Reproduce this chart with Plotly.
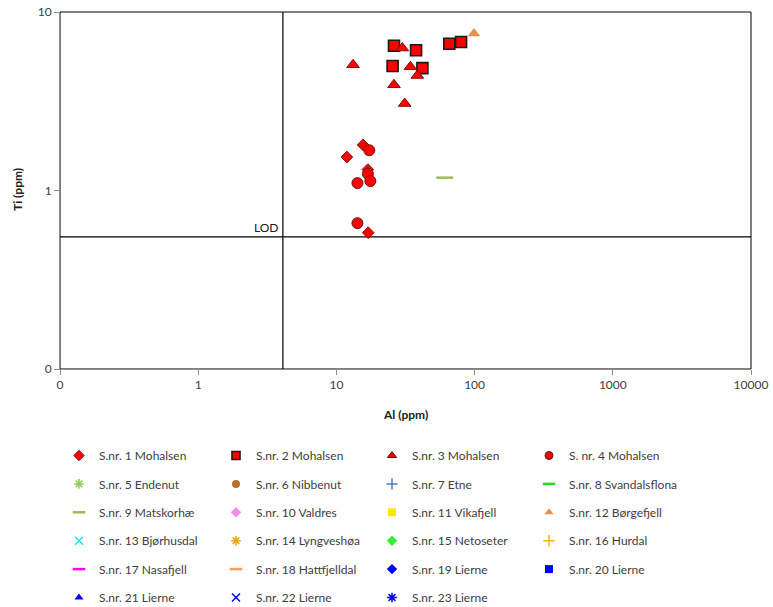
import plotly.graph_objects as go
import math

# ---------------- data ----------------
s1_al = [15.6, 11.9, 16.9, 17.0]
s1_ti = [1.80, 1.54, 1.31, 0.58]
s2_al = [26.1, 37.7, 25.5, 41.9, 65.6, 79.8]
s2_ti = [6.47, 6.10, 4.98, 4.85, 6.64, 6.79]
s3_al = [30.0, 13.2, 34.3, 38.5, 26.1, 31.2]
s3_ti = [6.28, 5.06, 4.93, 4.41, 3.91, 3.07]
s4_al = [17.3, 16.9, 14.2, 17.6, 14.2]
s4_ti = [1.68, 1.24, 1.10, 1.13, 0.656]
s9_al = [60.8]
s9_ti = [1.18]
s12_al = [99.0]
s12_ti = [7.59]

lod_al = 4.1
lod_ti = 0.55

x_tickvals = [0.1, 1, 10, 100, 1000, 10000]
x_ticktext = ["0", "1", "10", "100", "1000", "10000"]
y_tickvals = [0.1, 1, 10]
y_ticktext = ["0", "1", "10"]

series_names = [
    "S.nr. 1 Mohalsen", "S.nr. 2 Mohalsen", "S.nr. 3 Mohalsen", "S. nr. 4 Mohalsen",
    "S.nr. 5 Endenut", "S.nr. 6 Nibbenut", "S.nr. 7 Etne", "S.nr. 8 Svandalsflona",
    "S.nr. 9 Matskorhæ", "S.nr. 10 Valdres", "S.nr. 11 Vikafjell", "S.nr. 12 Børgefjell",
    "S.nr. 13 Bjørhusdal", "S.nr. 14 Lyngveshøa", "S.nr. 15 Netoseter", "S.nr. 16 Hurdal",
    "S.nr. 17 Nasafjell", "S.nr. 18 Hattfjelldal", "S.nr. 19 Lierne", "S.nr. 20 Lierne",
    "S.nr. 21 Lierne", "S.nr. 22 Lierne", "S.nr. 23 Lierne",
]

# ---------------- styles ----------------
# (symbol, fill color, outline color, outline width)
styles = [
    ("diamond", "#FF0000", "#7F1010", 1),
    ("square", "#FF0000", "#1A1A1A", 1.6),
    ("triangle-up", "#FF0000", "#7F1010", 1),
    ("circle", "#FF0000", "#5A2020", 1),
    ("asterisk-open", "#92D050", "#92D050", 1.5),
    ("circle", "#B8702F", "#B8702F", 0),
    ("cross-thin-open", "#4F81BD", "#4F81BD", 1.5),
    ("line-ew-open", "#22DD22", "#22DD22", 2.5),
    ("line-ew-open", "#9BBB59", "#9BBB59", 2.5),
    ("diamond", "#F38BEA", "#F38BEA", 0),
    ("square", "#FFE600", "#FFE600", 0),
    ("triangle-up", "#E8904C", "#E8904C", 0),
    ("x-thin-open", "#22E5E5", "#22E5E5", 1.5),
    ("asterisk-open", "#E8A317", "#E8A317", 1.5),
    ("diamond", "#33EE33", "#33EE33", 0),
    ("cross-thin-open", "#FFB000", "#FFB000", 1.5),
    ("line-ew-open", "#FF00FF", "#FF00FF", 2.5),
    ("line-ew-open", "#F7A060", "#F7A060", 2.5),
    ("diamond", "#0000FF", "#0000FF", 0),
    ("square", "#0000FF", "#0000FF", 0),
    ("triangle-up", "#0000FF", "#0000FF", 0),
    ("x-thin-open", "#0000FF", "#0000FF", 1.5),
    ("asterisk-open", "#0000FF", "#0000FF", 1.5),
]

plot_data = {
    0: (s1_al, s1_ti, 9),
    1: (s2_al, s2_ti, 11),
    2: (s3_al, s3_ti, 11),
    3: (s4_al, s4_ti, 11),
    8: (s9_al, s9_ti, 12),
    11: (s12_al, s12_ti, 11),
}

FONT = "Lato"
TXT = "#404040"
W, H = 773, 607
ML, MR, MT, MB = 60, 22, 12, 238

fig = go.Figure()

# LOD lines
fig.add_trace(go.Scatter(x=[lod_al, lod_al], y=[0.1, 10], mode="lines",
                         line=dict(color="#000000", width=1.2), showlegend=False, hoverinfo="skip"))
fig.add_trace(go.Scatter(x=[0.1, 10000], y=[lod_ti, lod_ti], mode="lines",
                         line=dict(color="#000000", width=1.2), showlegend=False, hoverinfo="skip"))

# data markers
for i, (xs, ys, sz) in plot_data.items():
    sym, fill, lc, lw = styles[i]
    fig.add_trace(go.Scatter(x=xs, y=ys, mode="markers", showlegend=False,
                             marker=dict(symbol=sym, size=sz, color=fill,
                                         line=dict(color=lc, width=lw))))

# legend entries (4 columns)
legend_keys = ["legend", "legend2", "legend3", "legend4"]
for i, name in enumerate(series_names):
    sym, fill, lc, lw = styles[i]
    size = 8
    if sym.startswith("line-ew"):
        size = 9
    fig.add_trace(go.Scatter(x=[None], y=[None], mode="markers", name=name,
                             legend=legend_keys[i % 4], legendgroup="g%d" % i,
                             marker=dict(symbol=sym, size=size, color=fill,
                                         line=dict(color=lc, width=lw if lw else 0))))

text_x = [99, 256, 412, 569]
legend_top = 441
layout_legends = {}
for k, key in enumerate(legend_keys):
    layout_legends[key] = dict(
        x=(text_x[k] - 40) / W, xref="container", xanchor="left",
        y=1 - legend_top / H, yref="container", yanchor="top",
        orientation="v", tracegroupgap=9.4, bgcolor="rgba(0,0,0,0)",
        font=dict(family=FONT, size=12, color=TXT),
    )

fig.add_annotation(x=math.log10(lod_al), y=math.log10(lod_ti), text="LOD",
                   showarrow=False, xanchor="right", yanchor="bottom",
                   xshift=-2, yshift=0, font=dict(family=FONT, size=12, color="#202020"))

# axis titles (pixel positions converted to paper coords of the plot area)
def paper_x(px):
    return (px - ML) / (W - ML - MR)

def paper_y(py):
    return 1 - (py - MT) / (H - MT - MB)

fig.add_annotation(x=paper_x(405), y=paper_y(414), xref="paper", yref="paper",
                   text="<b>Al (ppm)</b>", showarrow=False, xanchor="center", yanchor="middle",
                   font=dict(family=FONT, size=12, color="#202020"))
fig.add_annotation(x=paper_x(17), y=paper_y(190), xref="paper", yref="paper",
                   text="<b>Ti (ppm)</b>", showarrow=False, textangle=-90,
                   xanchor="center", yanchor="middle",
                   font=dict(family=FONT, size=12, color="#202020"))

# plot frame
fig.add_shape(type="rect", xref="x domain", yref="y domain", x0=0, x1=1, y0=0, y1=1,
              line=dict(color="#000000", width=1), layer="below")

fig.update_layout(
    width=W, height=H,
    margin=dict(l=ML, r=MR, t=MT, b=MB, autoexpand=False),
    paper_bgcolor="white", plot_bgcolor="white",
    font=dict(family=FONT, size=12, color=TXT),
    xaxis=dict(type="log", range=[-1, 4], tickvals=x_tickvals, ticktext=x_ticktext,
               showgrid=False, zeroline=False, showline=True, linecolor="#8C8C8C",
               ticks="outside", ticklen=5, tickcolor="#8C8C8C", automargin=False),
    yaxis=dict(type="log", range=[-1, 1], tickvals=y_tickvals, ticktext=y_ticktext,
               showgrid=False, zeroline=False, showline=True, linecolor="#8C8C8C",
               ticks="outside", ticklen=5, tickcolor="#8C8C8C", automargin=False),
    **layout_legends,
)

fig.write_html("out.html", config={"displayModeBar": False},
               post_script="document.body.style.margin='0';document.body.style.overflow='hidden';")
